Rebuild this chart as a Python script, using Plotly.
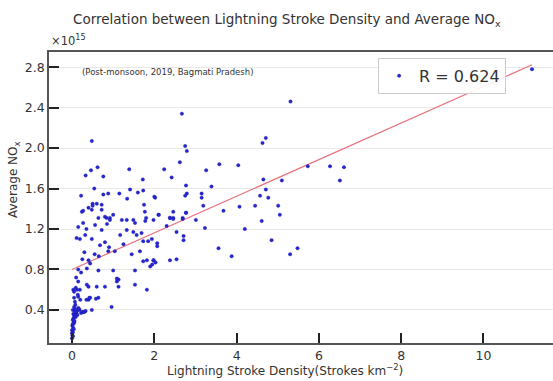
import plotly.graph_objects as go

# Lightning stroke density (strokes km^-2) and average NOx (x10^15)
density = [
    0.0, 0.01, 0.02, 0.0, 0.03, 0.01, 0.05, 0.02, 0.04, 0.06, 0.03, 0.08, 0.02, 0.05, 0.1,
    0.07, 0.12, 0.04, 0.09, 0.15, 0.01, 0.03, 0.06, 0.11, 0.0, 0.02, 0.05, 0.08, 0.13, 0.18,
    0.02, 0.04, 0.07, 0.22, 0.25, 0.17, 0.30, 0.33, 0.48, 0.28,
    0.15, 0.19, 0.03, 0.15, 0.07, 0.44, 0.40, 0.64, 0.80, 0.60, 0.40, 0.96, 1.09, 1.13, 1.13,
    1.53, 1.82, 0.15, 0.40, 0.44, 0.36, 0.64, 1.00, 1.09, 1.53, 1.73, 1.82, 1.98, 0.12, 0.10,
    0.05, 0.20, 0.22, 0.35, 0.42, 0.36, 0.58,
    0.11, 0.19, 0.32, 0.48, 0.68, 0.80, 0.88, 1.04, 1.17, 1.33, 1.49, 1.57, 1.69, 1.73, 1.65,
    1.85, 0.24, 0.48, 0.80, 1.00, 1.21, 1.33, 1.49, 1.53, 1.77, 0.27, 0.15, 0.56, 0.72,
    0.48, 0.62, 0.46, 0.33, 0.76, 1.39, 1.72, 0.54, 0.88, 0.76, 1.41, 1.60, 1.73, 0.22, 1.34,
    1.75, 0.50, 0.50, 0.40, 0.27, 0.72, 0.72, 0.64, 0.84, 0.92, 0.92, 1.80, 1.78, 2.00,
    2.67, 2.75, 2.79, 2.62, 2.24, 3.58, 4.04, 3.26, 2.42, 3.39, 2.77, 2.75, 2.79, 2.02, 3.15,
    3.15, 3.19, 3.68, 4.07, 2.46, 2.77, 2.10, 2.38, 2.46, 2.69,
    1.98, 2.11, 2.38, 2.46, 2.69, 2.77, 3.01, 2.30, 2.54, 2.71, 2.71, 3.23, 4.20, 3.56, 3.88,
    2.07, 2.07, 1.94, 1.98, 2.03, 1.95, 2.38, 2.54, 1.90,
    5.31, 4.63, 4.71, 5.73, 6.27, 6.61, 6.51, 5.10, 4.65, 4.71, 4.57, 4.77, 4.45, 5.01, 5.05,
    4.61, 4.85, 5.30, 5.48, 11.18,
    0.25, 0.30, 0.55, 0.65, 0.90, 1.25, 1.45, 0.35, 0.60, 0.85, 1.15, 0.05, 0.09, 0.14,
]
avg_nox = [
    0.12, 0.15, 0.18, 0.20, 0.22, 0.25, 0.27, 0.30, 0.32, 0.34, 0.36, 0.38, 0.40, 0.35, 0.37,
    0.41, 0.39, 0.28, 0.33, 0.42, 0.24, 0.31, 0.29, 0.36, 0.17, 0.26, 0.43, 0.45, 0.35, 0.40,
    0.14, 0.21, 0.38, 0.37, 0.38, 0.41, 0.38, 0.39, 0.40, 0.38,
    0.68, 0.60, 0.60, 0.53, 0.48, 0.52, 0.50, 0.52, 0.63, 0.63, 0.63, 0.43, 0.68, 0.70, 0.63,
    0.65, 0.60, 0.80, 0.89, 0.86, 0.81, 0.79, 0.79, 0.71, 0.79, 0.88, 0.89, 0.89, 0.60, 0.72,
    0.58, 0.50, 0.77, 0.50, 0.52, 0.65, 0.51,
    1.11, 1.10, 1.14, 1.10, 1.04, 1.07, 0.98, 0.98, 1.14, 1.19, 1.17, 1.14, 1.16, 1.08, 0.98,
    1.08, 1.37, 1.39, 1.32, 1.34, 1.29, 1.29, 1.29, 1.26, 1.37, 1.26, 1.22, 1.24, 1.19,
    2.07, 1.81, 1.78, 1.73, 1.72, 1.79, 1.69, 1.60, 1.55, 1.54, 1.59, 1.56, 1.58, 1.53, 1.50,
    1.44, 1.45, 1.43, 1.41, 1.38, 1.44, 1.39, 1.31, 1.31, 1.31, 1.29, 1.31, 1.28, 1.52,
    2.34, 2.02, 1.97, 1.86, 1.79, 1.84, 1.83, 1.78, 1.71, 1.62, 1.63, 1.53, 1.55, 1.51, 1.55,
    1.51, 1.43, 1.38, 1.42, 1.37, 1.36, 1.34, 1.31, 1.31, 1.31,
    1.29, 1.34, 1.31, 1.30, 1.30, 1.36, 1.29, 1.23, 1.17, 1.13, 1.09, 1.21, 1.20, 1.01, 0.93,
    1.06, 1.03, 1.10, 0.89, 0.87, 0.85, 0.89, 0.90, 0.83,
    2.46, 2.05, 2.10, 1.82, 1.82, 1.81, 1.68, 1.68, 1.69, 1.59, 1.53, 1.51, 1.43, 1.43, 1.34,
    1.28, 1.09, 0.95, 1.01, 2.78,
    0.90, 0.97, 0.95, 0.93, 1.02, 1.05, 0.95, 1.20, 1.45, 1.25, 1.55, 0.52, 0.62, 0.55,
]

fit_intercept = 0.80
fit_slope = 0.181
r_label = "R = 0.624"

x_ticks = [0, 2, 4, 6, 8, 10]
y_ticks = [0.4, 0.8, 1.2, 1.6, 2.0, 2.4, 2.8]
y_tick_text = ["0.4", "0.8", "1.2", "1.6", "2.0", "2.4", "2.8"]

line_x = [min(density), max(density)]
line_y = [fit_intercept + fit_slope * v for v in line_x]

FONT = "DejaVu Sans"
TXT = "#333333"

fig = go.Figure()
fig.add_trace(go.Scatter(
    x=line_x, y=line_y, mode="lines",
    line=dict(color="#e8737f", width=1.2), showlegend=False, hoverinfo="skip",
))
fig.add_trace(go.Scatter(
    x=density, y=avg_nox, mode="markers", name=r_label,
    marker=dict(color="#2525d8", size=3.5, line=dict(width=0.3, color="#15158a")),
))

fig.update_layout(
    width=553, height=381,
    margin=dict(l=49, r=0, t=52, b=38),
    paper_bgcolor="white", plot_bgcolor="white",
    font=dict(family=FONT, color=TXT, size=12),
    showlegend=True,
    legend=dict(
        x=0.653, y=0.98, xanchor="left", yanchor="top",
        bgcolor="rgba(255,255,255,0.9)", bordercolor="#cccccc", borderwidth=1,
        font=dict(size=16, color="#333333", family=FONT),
        itemsizing="trace",
    ),
    xaxis=dict(
        range=[-0.56, 11.69], tickvals=x_ticks, ticks="inside", ticklen=10, tickwidth=2,
        tickcolor="#222222", showline=True, linecolor="#555555", linewidth=1.5,
        mirror=True, showgrid=False, zeroline=False,
        tickfont=dict(size=12.5, color=TXT, family=FONT),
    ),
    yaxis=dict(
        range=[0.073, 2.95], tickvals=y_ticks, ticktext=y_tick_text, ticks="inside",
        ticklen=10, tickwidth=2, tickcolor="#222222", showline=True, linecolor="#555555",
        linewidth=1.5, showgrid=True, gridcolor="#e8e8e8", gridwidth=1.2, zeroline=False,
        tickfont=dict(size=12.5, color=TXT, family=FONT),
    ),
    annotations=[
        dict(text="Correlation between Lightning Stroke Density and Average NO<sub>x</sub>",
             xref="paper", yref="paper", x=(287 - 49) / 504, y=(343 - 20) / 291,
             xanchor="center", yanchor="middle", showarrow=False,
             font=dict(size=13.5, color=TXT, family=FONT)),
        dict(text="×10<sup>15</sup>", xref="paper", yref="paper",
             x=0.0, y=(343 - 41) / 291, xanchor="left", yanchor="middle", showarrow=False,
             font=dict(size=11.5, color=TXT, family=FONT)),
        dict(text="(Post-monsoon, 2019, Bagmati Pradesh)", xref="paper", yref="paper",
             x=(167 - 49) / 504, y=(343 - 72) / 291, xanchor="center", yanchor="middle",
             showarrow=False, font=dict(size=8.5, color=TXT, family=FONT)),
        dict(text="Lightning Stroke Density(Strokes km<sup>−2</sup>)", xref="paper",
             yref="paper", x=(285 - 49) / 504, y=(343 - 370) / 291, xanchor="center",
             yanchor="middle", showarrow=False, font=dict(size=12, color=TXT, family=FONT)),
        dict(text="Average NO<sub>x</sub>", xref="paper", yref="paper",
             x=(14 - 49) / 504, y=(343 - 180) / 291, xanchor="center", yanchor="middle",
             textangle=-90, showarrow=False, font=dict(size=12, color=TXT, family=FONT)),
    ],
)

fig.write_html("out.html")
